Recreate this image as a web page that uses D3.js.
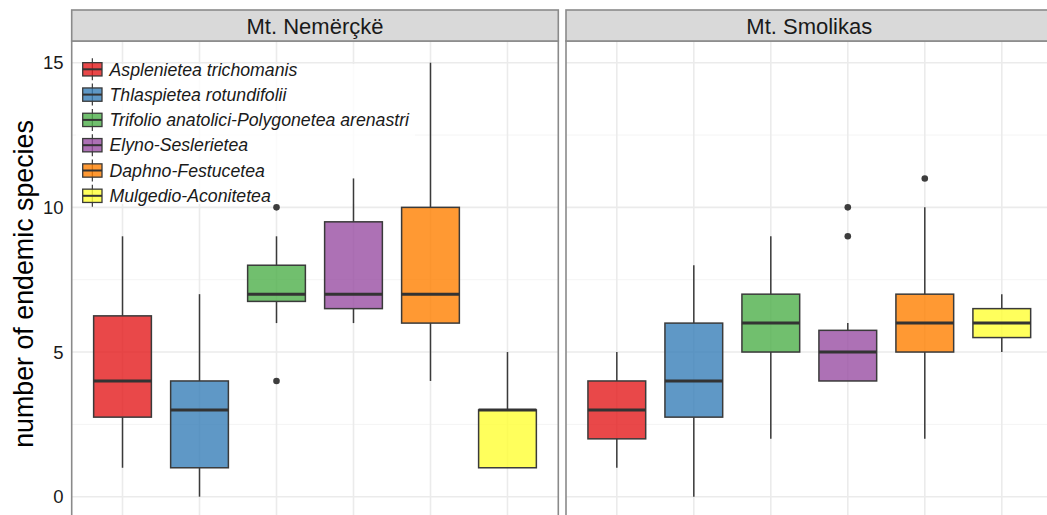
<!DOCTYPE html>
<html>
<head>
<meta charset="utf-8">
<script src="https://cdn.jsdelivr.net/npm/d3@7"></script>
<style>
  html, body { margin: 0; padding: 0; background: #ffffff; overflow: hidden; }
  svg { display: block; }
  text { font-family: "Liberation Sans", Arial, sans-serif; }
</style>
</head>
<body>
<svg id="chart" width="1047" height="515"></svg>
<script>
// Vegetation classes (legend order) and their Set1 colours
const classes = [
  "Asplenietea trichomanis",
  "Thlaspietea rotundifolii",
  "Trifolio anatolici-Polygonetea arenastri",
  "Elyno-Seslerietea",
  "Daphno-Festucetea",
  "Mulgedio-Aconitetea"
];
const classColors = ["#E41A1C", "#377EB8", "#4DAF4A", "#984EA3", "#FF7F00", "#FFFF33"];

// Mountain facets
const sites = ["Mt. Nemërçkë", "Mt. Smolikas"];

// Box statistics, Mt. Nemërçkë
const nemLow  = [1,    0, 6,    6,   4,  1];
const nemQ1   = [2.75, 1, 6.75, 6.5, 6,  1];
const nemMed  = [4,    3, 7,    7,   7,  3];
const nemQ3   = [6.25, 4, 8,    9.5, 10, 3];
const nemHigh = [9,    7, 9,    11,  15, 5];
const nemOut  = [[], [], [10, 4], [], [], []];

// Box statistics, Mt. Smolikas
const smoLow  = [1, 0,    2, 4,    2,  5];
const smoQ1   = [2, 2.75, 5, 4,    5,  5.5];
const smoMed  = [3, 4,    6, 5,    6,  6];
const smoQ3   = [4, 6,    7, 5.75, 7,  6.5];
const smoHigh = [5, 8,    9, 6,    10, 7];
const smoOut  = [[], [], [], [10, 9], [11], []];

// Axis ticks
const yMajorTicks = [0, 5, 10, 15];
const yMinorTicks = [2.5, 7.5, 12.5];
const yTitle = "number of endemic species";

const siteStats = [
  { low: nemLow, q1: nemQ1, med: nemMed, q3: nemQ3, high: nemHigh, out: nemOut },
  { low: smoLow, q1: smoQ1, med: smoMed, q3: smoQ3, high: smoHigh, out: smoOut }
];

const svg = d3.select("#chart");

// Layout
const panelTop = 41, panelBottom = 518.4;
const stripTop = 10;
const panels = [
  { x0: 71.7, x1: 558.3 },
  { x0: 566,  x1: 1052.6 }
];

const y = d3.scaleLinear().domain([-0.75, 15.75]).range([panelBottom, panelTop]);

const gridMajor = "#ebebeb", gridMinor = "#f4f4f4";
const frame = "#8a8a8a";

panels.forEach((p, si) => {
  const x = d3.scalePoint().domain(classes).range([p.x0, p.x1]).padding(0.66);
  const bw = x.step() * 0.75;
  const g = svg.append("g");

  // panel background and grid
  g.append("rect").attr("x", p.x0).attr("y", panelTop)
    .attr("width", p.x1 - p.x0).attr("height", panelBottom - panelTop)
    .attr("fill", "#ffffff");
  g.selectAll(".ymin").data(yMinorTicks).join("line")
    .attr("x1", p.x0).attr("x2", p.x1)
    .attr("y1", d => y(d)).attr("y2", d => y(d))
    .attr("stroke", gridMinor).attr("stroke-width", 1);
  g.selectAll(".ymaj").data(yMajorTicks).join("line")
    .attr("x1", p.x0).attr("x2", p.x1)
    .attr("y1", d => y(d)).attr("y2", d => y(d))
    .attr("stroke", gridMajor).attr("stroke-width", 1.6);
  g.selectAll(".xmaj").data(classes).join("line")
    .attr("x1", d => x(d)).attr("x2", d => x(d))
    .attr("y1", panelTop).attr("y2", panelBottom)
    .attr("stroke", gridMajor).attr("stroke-width", 1.6);

  // translucent legend background in the first panel
  if (si === 0) {
    g.append("rect").attr("x", 76).attr("y", 64).attr("width", 339).attr("height", 140)
      .attr("fill", "#ffffff").attr("fill-opacity", 0.8);
  }

  const st = siteStats[si];
  const boxes = classes.map((c, i) => ({
    c, i, low: st.low[i], q1: st.q1[i], med: st.med[i], q3: st.q3[i], high: st.high[i], out: st.out[i]
  }));

  const bg = g.selectAll(".box").data(boxes).join("g");
  // whiskers
  bg.append("line")
    .attr("x1", d => x(d.c)).attr("x2", d => x(d.c))
    .attr("y1", d => y(d.q3)).attr("y2", d => y(d.high))
    .attr("stroke", "#3a3a3a").attr("stroke-width", 1.5);
  bg.append("line")
    .attr("x1", d => x(d.c)).attr("x2", d => x(d.c))
    .attr("y1", d => y(d.q1)).attr("y2", d => y(d.low))
    .attr("stroke", "#3a3a3a").attr("stroke-width", 1.5);
  // boxes
  bg.append("rect")
    .attr("x", d => x(d.c) - bw / 2).attr("width", bw)
    .attr("y", d => y(d.q3)).attr("height", d => y(d.q1) - y(d.q3))
    .attr("fill", d => classColors[d.i]).attr("fill-opacity", 0.8)
    .attr("stroke", "#3a3a3a").attr("stroke-width", 1.5);
  // medians
  bg.append("line")
    .attr("x1", d => x(d.c) - bw / 2).attr("x2", d => x(d.c) + bw / 2)
    .attr("y1", d => y(d.med)).attr("y2", d => y(d.med))
    .attr("stroke", "#333333").attr("stroke-width", 3);
  // outliers
  bg.selectAll("circle").data(d => d.out.map(v => ({ c: d.c, v }))).join("circle")
    .attr("cx", d => x(d.c)).attr("cy", d => y(d.v)).attr("r", 3.3)
    .attr("fill", "#3d3d3d");

  // panel border
  g.append("rect").attr("x", p.x0).attr("y", panelTop)
    .attr("width", p.x1 - p.x0).attr("height", panelBottom - panelTop)
    .attr("fill", "none").attr("stroke", frame).attr("stroke-width", 1.6);

  // facet strip
  g.append("rect").attr("x", p.x0).attr("y", stripTop)
    .attr("width", p.x1 - p.x0).attr("height", panelTop - stripTop)
    .attr("fill", "#d9d9d9").attr("stroke", frame).attr("stroke-width", 1.6);
  g.append("text")
    .attr("x", (p.x0 + p.x1) / 2).attr("y", 34.3)
    .attr("text-anchor", "middle").attr("font-size", 22).attr("fill", "#1a1a1a")
    .text(sites[si]);
});

// y axis labels
svg.append("g").selectAll("text").data(yMajorTicks).join("text")
  .attr("x", 63.5).attr("y", d => y(d) + 6.6)
  .attr("text-anchor", "end").attr("font-size", 18.5).attr("fill", "#1a1a1a")
  .text(d => d);

svg.append("text")
  .attr("transform", "translate(33.3,284) rotate(-90)")
  .attr("text-anchor", "middle").attr("font-size", 26.8).attr("fill", "#000000")
  .text(yTitle);

// legend
const legend = svg.append("g");
const rowY = i => 69.3 + i * 25.3;
const keyX0 = 82.7, keyW = 19.3, keyH = 13.3;
const lg = legend.selectAll("g").data(classes).join("g");
lg.append("line")
  .attr("x1", keyX0 + keyW / 2).attr("x2", keyX0 + keyW / 2)
  .attr("y1", (d, i) => rowY(i) - 11).attr("y2", (d, i) => rowY(i) + 11)
  .attr("stroke", "#3a3a3a").attr("stroke-width", 1.2);
lg.append("rect")
  .attr("x", keyX0).attr("width", keyW)
  .attr("y", (d, i) => rowY(i) - keyH / 2).attr("height", keyH)
  .attr("fill", (d, i) => classColors[i]).attr("fill-opacity", 0.8)
  .attr("stroke", "#3a3a3a").attr("stroke-width", 1.3);
lg.append("line")
  .attr("x1", keyX0).attr("x2", keyX0 + keyW)
  .attr("y1", (d, i) => rowY(i)).attr("y2", (d, i) => rowY(i))
  .attr("stroke", "#333333").attr("stroke-width", 2);
lg.append("text")
  .attr("x", 109.5).attr("y", (d, i) => rowY(i) + 6.2)
  .attr("font-size", 17.7).attr("font-style", "italic").attr("fill", "#1a1a1a")
  .text(d => d);
</script>
</body>
</html>
